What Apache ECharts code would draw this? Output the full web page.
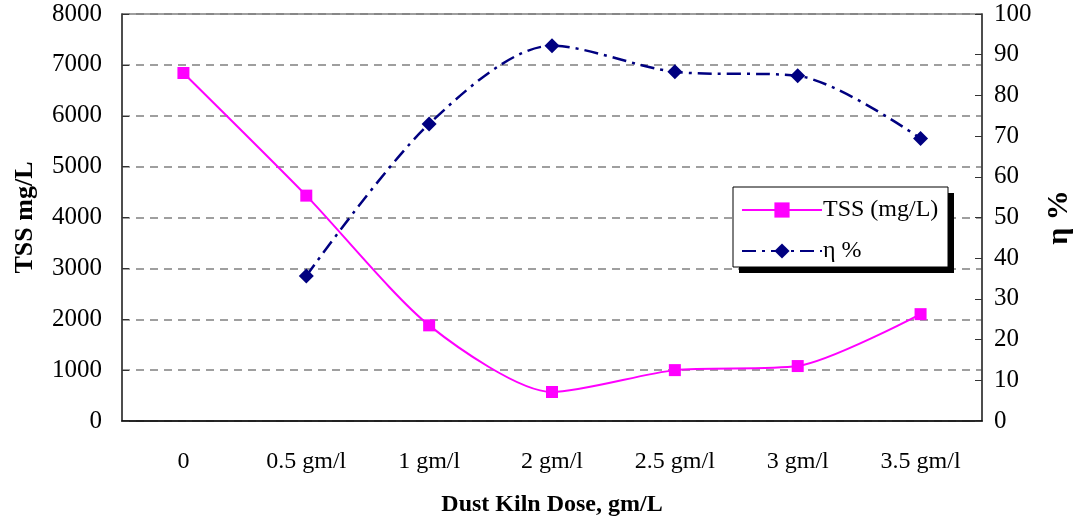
<!DOCTYPE html>
<html>
<head>
<meta charset="utf-8">
<script src="https://cdn.jsdelivr.net/npm/echarts@6/dist/echarts.min.js"></script>
<style>
html,body{margin:0;padding:0;background:#fff;}
#chart{width:1082px;height:526px;}
</style>
</head>
<body>
<div id="chart"></div>
<script>
const categories = ['0', '0.5 gm/l', '1 gm/l', '2 gm/l', '2.5 gm/l', '3 gm/l', '3.5 gm/l'];
const tssValues = [6840, 4430, 1880, 570, 1000, 1080, 2100];
const etaValues = [null, 35.6, 73, 92.2, 85.8, 84.8, 69.4];
const leftTicks = [0, 8000, 1000];
const rightTicks = [0, 100, 10];

const serif = '"Liberation Serif", "Times New Roman", serif';
const chart = echarts.init(document.getElementById('chart'));
chart.setOption({
  animation: false,
  backgroundColor: '#fff',
  grid: { left: 122, right: 100, top: 14, bottom: 105, outerBoundsMode: 'none', containLabel: false,
          show: true, borderColor: '#808080', borderWidth: 1.5 },
  graphic: [
    { type: 'rect', z: 50, shape: { x: 739, y: 193, width: 215, height: 80 }, style: { fill: '#000' } },
    { type: 'rect', z: 51, shape: { x: 733, y: 187, width: 215, height: 80 }, style: { fill: '#fff', stroke: '#000', lineWidth: 1 } }
  ],
  legend: {
    left: 733, top: 187,
    orient: 'vertical',
    z: 60,
    padding: [11, 0, 8, 8],
    itemGap: 17,
    itemWidth: 80, itemHeight: 19,
    textStyle: { fontFamily: serif, fontSize: 24, color: '#000', padding: [0, 0, 0, -4] },
    data: [
      { name: 'TSS (mg/L)' },
      { name: 'η %' }
    ]
  },
  xAxis: [{
    type: 'category', data: categories, boundaryGap: true,
    axisLine: { lineStyle: { color: '#000', width: 1.5 } },
    axisTick: { inside: true, length: 5, lineStyle: { color: '#333' } },
    axisLabel: { fontFamily: serif, fontSize: 24, color: '#000', margin: 29 },
    name: 'Dust Kiln Dose, gm/L', nameLocation: 'middle', nameGap: 72,
    nameTextStyle: { fontFamily: serif, fontSize: 24, fontWeight: 'bold', color: '#000' }
  }, {
    type: 'category', data: categories, boundaryGap: true, position: 'bottom',
    axisLine: { show: false },
    axisTick: { inside: true, length: 5, alignWithLabel: true, lineStyle: { color: '#333' } },
    axisLabel: { show: false }
  }],
  yAxis: [{
    type: 'value', min: leftTicks[0], max: leftTicks[1], interval: leftTicks[2],
    axisLine: { show: true, lineStyle: { color: '#333', width: 1.5 } },
    axisTick: { show: true, inside: true, length: 7, lineStyle: { color: '#333' } },
    axisLabel: { fontFamily: serif, fontSize: 25, color: '#000', margin: 20, formatter: v => String(v) },
    splitLine: { show: true, lineStyle: { color: '#808080', type: [8, 6], width: 1.5 } },
    name: 'TSS mg/L', nameLocation: 'middle', nameGap: 84, nameRotate: 90,
    nameTextStyle: { fontFamily: serif, fontSize: 26, fontWeight: 'bold', color: '#000' }
  }, {
    type: 'value', min: rightTicks[0], max: rightTicks[1], interval: rightTicks[2], position: 'right',
    axisLine: { show: true, lineStyle: { color: '#333', width: 1.5 } },
    axisTick: { show: true, inside: true, length: 7, lineStyle: { color: '#333' } },
    axisLabel: { fontFamily: serif, fontSize: 25, color: '#000', margin: 12 },
    splitLine: { show: false },
    name: 'η %', nameLocation: 'middle', nameGap: 62, nameRotate: 90,
    nameTextStyle: { fontFamily: serif, fontSize: 30, fontWeight: 'bold', color: '#000' }
  }],
  series: [{
    name: 'TSS (mg/L)', type: 'line', data: tssValues, yAxisIndex: 0,
    smooth: 0.25,
    symbol: 'rect', symbolSize: 12,
    itemStyle: { color: '#FF00FF' },
    lineStyle: { color: '#FF00FF', width: 2 }
  }, {
    name: 'η %', type: 'line', data: etaValues, yAxisIndex: 1,
    smooth: 0.3,
    symbol: 'diamond', symbolSize: 15,
    itemStyle: { color: '#000080' },
    lineStyle: { color: '#000080', width: 2.5, type: [14, 6, 3, 6] }
  }]
});
</script>
</body>
</html>
